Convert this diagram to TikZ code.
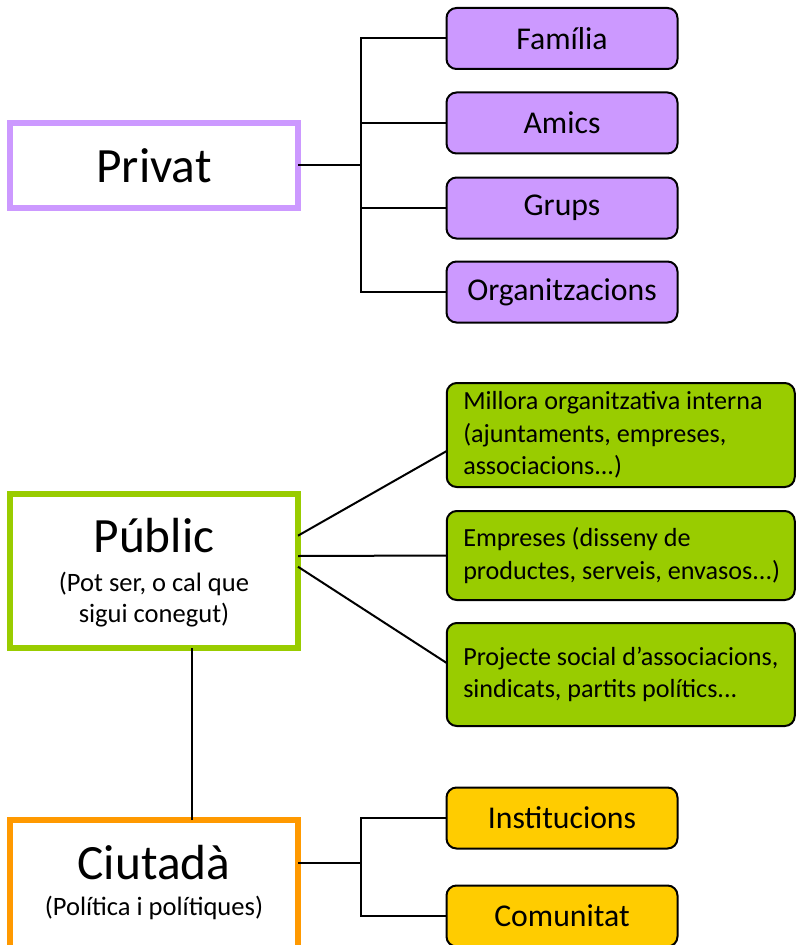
\documentclass[tikz,border=0pt]{standalone}
\usepackage{fontspec}
\setmainfont{Carlito}
\usetikzlibrary{calc}
\definecolor{privc}{HTML}{CC99FF}
\definecolor{pubc}{HTML}{99CC00}
\definecolor{ciuc}{HTML}{FF9900}
\definecolor{yelc}{HTML}{FFCC00}
\tikzset{
  mainbox/.style={draw, rectangle, line width=4.1pt, fill=white, minimum width=216pt, inner sep=0pt, outer sep=0pt},
  leafbox/.style={draw=black, rectangle, rounded corners=7.5pt, line width=1.5pt, minimum width=173.25pt, minimum height=45.75pt, inner sep=0pt, outer sep=0pt, font=\fontsize{23.8}{28}\selectfont},
  greenbox/.style={draw=black, fill=pubc, rectangle, rounded corners=7.5pt, line width=1.5pt, minimum width=261pt, text width=236.25pt, inner xsep=12.375pt, inner ysep=0pt, outer sep=0pt, align=flush left, font=\fontsize{19.6}{24.5}\selectfont},
  bigtxt/.style={anchor=base, inner sep=0pt, font=\fontsize{37}{44}\selectfont},
  subtxt/.style={anchor=base, inner sep=0pt, font=\fontsize{19.9}{23.25}\selectfont},
  conn/.style={draw=black, line width=1.5pt},
}
\begin{document}
\begin{tikzpicture}[x=0.75pt,y=-0.75pt]
\useasboundingbox (0,0) rectangle (796,945);
\clip (0,0) rectangle (796,945);
% Privat
\node[mainbox, draw=privc, minimum height=63.75pt] (priv) at (154,165.5) {};
\node[bigtxt] (privt) at (154,182.5) {Privat};
\node[leafbox, fill=privc] (f1) at (562,38.5) {Família};
\node[leafbox, fill=privc] (f2) at (562,123) {Amics};
\node[leafbox, fill=privc] (f3) at (562,208) {Grups};
\node[leafbox, fill=privc] (f4) at (562,292) {Organitzacions};
\coordinate (pj) at (361,165.5);
\draw[conn] (priv.east) -- (pj);
\draw[conn] (f1.west) -- (f1.west -| pj) -- (f4.west -| pj) -- (f4.west);
\draw[conn] (f2.west) -- (f2.west -| pj);
\draw[conn] (f3.west) -- (f3.west -| pj);
% Public
\node[mainbox, draw=pubc, minimum height=115.5pt] (pub) at (154,571) {};
\node[bigtxt] (pubt) at (154,552.5) {Públic};
\node[subtxt] (pubs1) at (154,591) {(Pot ser, o cal que};
\node[subtxt] (pubs2) at (154,622) {sigui conegut)};
\node[greenbox, minimum height=78pt] (g1) at (620.75,435) {\mbox{Millora organitzativa interna}\\\mbox{(ajuntaments, empreses,}\\\mbox{associacions...)}};
\node[greenbox, minimum height=66.75pt] (g2) at (620.75,555.5) {\mbox{Empreses (disseny de}\\\mbox{productes, serveis, envasos...)}};
\node[greenbox, minimum height=77.25pt] (g3) at (620.75,674.5) {\mbox{Projecte social d’associacions,}\\\mbox{sindicats, partits polítics...}};
\draw[conn] ([yshift=26.5pt]pub.east) -- ([yshift=-12pt]g1.west);
\draw[conn] ([yshift=11.25pt]pub.east) -- ([yshift=0pt]g2.west);
\draw[conn] ([yshift=3.2pt]pub.east) -- ([yshift=8.6pt]g3.west);
% Ciutada
\node[mainbox, draw=ciuc, minimum height=97.5pt] (ciu) at (154,885) {};
\node[bigtxt] (ciut) at (154,879) {Ciutadà};
\node[subtxt] (cius) at (154,915) {(Política i polítiques)};
\draw[conn] ($(pub.south)+(38,0)$) -- ($(ciu.north)+(38,0)$);
\node[leafbox, fill=yelc] (y1) at (562,818) {Institucions};
\node[leafbox, fill=yelc] (y2) at (562,916) {Comunitat};
\coordinate (cj) at (361,862.7);
\draw[conn] (ciu.east |- cj) -- (cj);
\draw[conn] (y1.west) -- (y1.west -| cj) -- (y2.west -| cj) -- (y2.west);
\end{tikzpicture}
\end{document}
